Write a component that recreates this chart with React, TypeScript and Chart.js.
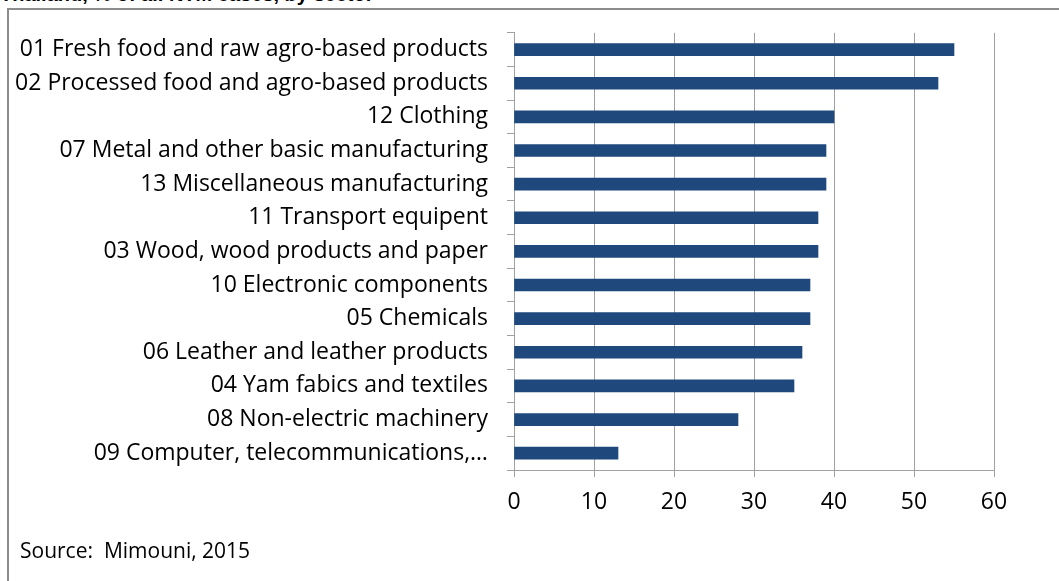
import React, { useEffect, useRef } from "react";
import { Chart, registerables } from "chart.js";

Chart.register(...registerables);

const categories: string[] = [
  "01 Fresh food and raw agro-based products",
  "02 Processed food and agro-based products",
  "12 Clothing",
  "07 Metal and other basic manufacturing",
  "13 Miscellaneous manufacturing",
  "11 Transport equipent",
  "03 Wood, wood products and paper",
  "10 Electronic components",
  "05 Chemicals",
  "06 Leather and leather products",
  "04 Yam fabics and textiles",
  "08 Non-electric machinery",
  "09 Computer, telecommunications,…",
];

const shareValues: number[] = [55, 53, 40, 39, 39, 38, 38, 37, 37, 36, 35, 28, 13];

const xTickValues: number[] = [0, 10, 20, 30, 40, 50, 60];

const titleText = "Thailand, % of all NTM cases, by sector";
const sourceText = "Source:  Mimouni, 2015";

export default function App() {
  const canvasRef = useRef<HTMLCanvasElement | null>(null);

  useEffect(() => {
    if (!canvasRef.current) return;
    const font = { family: "Open Sans", size: 23 };
    const chart = new Chart(canvasRef.current, {
      type: "bar",
      data: {
        labels: categories,
        datasets: [
          {
            data: shareValues,
            backgroundColor: "#1F497D",
            borderWidth: 0,
            barThickness: 12,
          },
        ],
      },
      options: {
        indexAxis: "y",
        animation: false,
        responsive: true,
        maintainAspectRatio: false,
        layout: { padding: { top: 32, right: 65, left: 0, bottom: 0 } },
        plugins: {
          legend: { display: false },
          tooltip: { enabled: false },
        },
        scales: {
          x: {
            min: xTickValues[0],
            max: xTickValues[xTickValues.length - 1],
            afterBuildTicks: (scale: any) => {
              scale.ticks = xTickValues.map((v) => ({ value: v }));
            },
            afterFit: (scale: any) => {
              scale.height = 111;
            },
            ticks: {
              color: "#000",
              font,
              padding: 12,
            },
            grid: {
              color: "#a0a0a0",
              lineWidth: 1,
              tickLength: 7,
            },
            border: { display: true, color: "#a0a0a0", width: 1 },
          },
          y: {
            afterFit: (scale: any) => {
              scale.width = 514;
            },
            ticks: {
              color: "#000",
              font,
              padding: 19,
            },
            grid: {
              drawOnChartArea: false,
              offset: true,
              color: "#a0a0a0",
              tickLength: 7,
            },
            border: { display: true, color: "#a0a0a0", width: 1 },
          },
        },
      },
    });
    return () => chart.destroy();
  }, []);

  return (
    <div style={{ position: "absolute", left: 0, top: 0, width: 1059, height: 581, overflow: "hidden", background: "#fff" }}>
      <div
        style={{
          position: "absolute",
          left: 0,
          top: -17,
          fontFamily: "Liberation Sans, Arial, sans-serif",
          fontWeight: "bold",
          fontSize: 20,
          color: "#000",
          whiteSpace: "nowrap",
          lineHeight: "23px",
        }}
      >
        {titleText}
      </div>
      <div
        style={{
          position: "absolute",
          left: 7,
          top: 8,
          width: 1200,
          height: 700,
          border: "2px solid #8c8c8c",
          boxSizing: "border-box",
        }}
      />
      <div style={{ position: "absolute", left: 0, top: 0, width: 1059, height: 581 }}>
        <canvas ref={canvasRef} />
      </div>
      <div
        style={{
          position: "absolute",
          left: 20,
          top: 536,
          fontFamily: "Open Sans, sans-serif",
          fontSize: 21,
          color: "#000",
          whiteSpace: "pre",
          lineHeight: "28px",
        }}
      >
        {sourceText}
      </div>
    </div>
  );
}
